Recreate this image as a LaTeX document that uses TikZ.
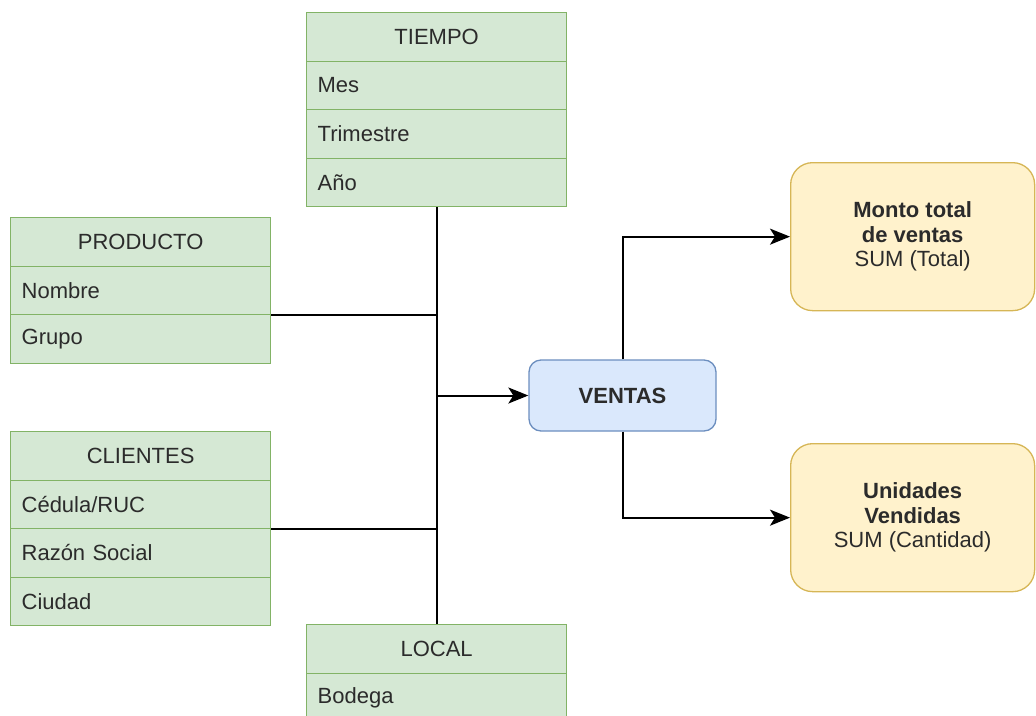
\documentclass[tikz,border=0pt]{standalone}
\usepackage{fontspec}
\setmainfont{Liberation Sans}
\usetikzlibrary{arrows.meta,calc}

\definecolor{dimfill}{HTML}{D5E8D4}
\definecolor{dimline}{HTML}{82B366}
\definecolor{factfill}{HTML}{DAE8FC}
\definecolor{factline}{HTML}{6C8EBF}
\definecolor{measfill}{HTML}{FFF2CC}
\definecolor{measline}{HTML}{D6B656}
\definecolor{txt}{HTML}{2B2B2B}

\tikzset{
  cell/.style={draw=dimline, fill=dimfill, line width=1.3pt, anchor=north west,
    minimum height=48.5pt, inner ysep=0pt, inner xsep=11pt, text width=238pt,
    align=left, text=txt, font=\fontsize{22}{25}\selectfont},
  headcell/.style={cell, align=center},
  factbox/.style={draw=factline, fill=factfill, line width=1.3pt, rounded corners=12pt,
    minimum width=187pt, minimum height=71pt, text=txt,
    font=\fontsize{22}{25}\selectfont\bfseries},
  measbox/.style={draw=measline, fill=measfill, line width=1.3pt, rounded corners=22pt,
    anchor=north west, minimum width=244pt, minimum height=148pt, align=center,
    text=txt, font=\fontsize{22}{24.5}\selectfont},
  link/.style={draw=black, line width=2pt},
  flow/.style={link, -{Stealth[length=20pt,width=16pt,inset=5pt]}}
}

\begin{document}
\begin{tikzpicture}[x=1pt,y=-1pt]
\useasboundingbox (0,0) rectangle (1036,715);

% TIEMPO
\node[headcell] (tiempo-h) at (306,12) {TIEMPO};
\node[cell] (tiempo-1) at (306,60.5) {Mes};
\node[cell] (tiempo-2) at (306,109) {Trimestre};
\node[cell] (tiempo-3) at (306,157.5) {Año};

% PRODUCTO
\node[headcell] (prod-h) at (10,217) {PRODUCTO};
\node[cell] (prod-1) at (10,265.5) {Nombre};
\node[cell] (prod-2) at (10,314) {Grupo};

% CLIENTES
\node[headcell] (cli-h) at (10,431) {CLIENTES};
\node[cell] (cli-1) at (10,479.5) {Cédula/RUC};
\node[cell] (cli-2) at (10,528) {Razón Social};
\node[cell] (cli-3) at (10,576.5) {Ciudad};

% LOCAL
\node[headcell] (local-h) at (306,624) {LOCAL};
\node[cell] (local-1) at (306,672.5) {Bodega};

% fact table and measures
\node[factbox] (ventas) at (622.5,395.5) {VENTAS};
\node[measbox] (monto) at (790,162) {\textbf{Monto total}\\\textbf{de ventas}\\SUM (Total)};
\node[measbox] (unid) at (790,443) {\textbf{Unidades}\\\textbf{Vendidas}\\SUM (Cantidad)};

% dimension bus
\draw[link] (tiempo-3.south) -- (local-h.north);
\draw[link] (prod-1.south east) -- (prod-1.south east -| tiempo-3.south);
\draw[link] (cli-1.south east) -- (cli-1.south east -| tiempo-3.south);
\coordinate (bus) at (tiempo-3.south |- ventas.west);
\draw[flow] (bus) -- (ventas.west);

% measures
\draw[flow] (ventas.north) |- (monto.west);
\draw[flow] (ventas.south) |- (unid.west);
\end{tikzpicture}
\end{document}
